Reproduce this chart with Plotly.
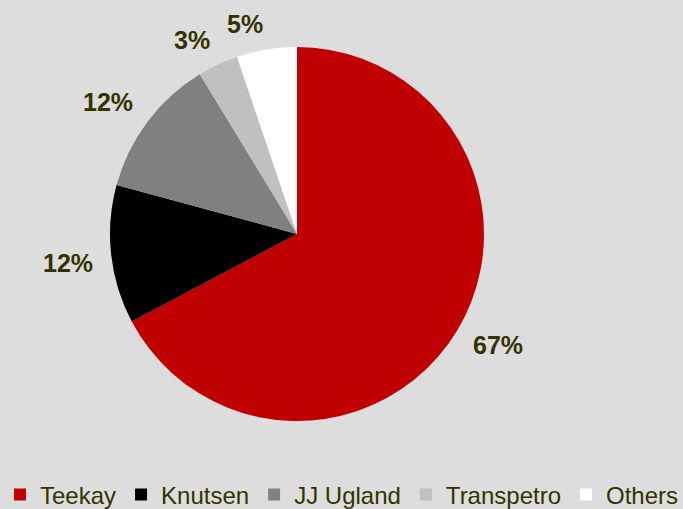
import math
import plotly.graph_objects as go

categories = ["Teekay", "Knutsen", "JJ Ugland", "Transpetro", "Others"]
shares = [67.25, 11.97, 12.08, 3.5, 5.2]
share_labels = ["67%", "12%", "12%", "3%", "5%"]
colors = ["#C00000", "#000000", "#808080", "#C0C0C0", "#FFFFFF"]

W, H = 683, 509
CX, CY, R = 297, 234, 187  # pie centre / radius in pixels
TEXT_COLOR = "#333300"
LABEL_SIZE = 25

fig = go.Figure(go.Pie(
    labels=categories,
    values=shares,
    textinfo="none",
    sort=False,
    direction="clockwise",
    rotation=0,
    marker=dict(colors=colors, line=dict(width=0)),
    domain=dict(x=[(CX - R) / W, (CX + R) / W], y=[1 - (CY + R) / H, 1 - (CY - R) / H]),
    hoverinfo="label+percent",
))

# data labels: nearest corner of each label sits on the slice's mid-angle ray
total = sum(shares)
cum = 0.0
annotations = []
for val, lab in zip(shares, share_labels):
    mid = (cum + val / 2) / total * 2 * math.pi
    cum += val
    dx, dy = math.sin(mid), -math.cos(mid)
    dist = R + 17
    px, py = CX + dx * dist, CY + dy * dist
    up = dy < 0
    annotations.append(dict(
        x=px / W, y=1 - py / H, xref="paper", yref="paper",
        text="<b>%s</b>" % lab, showarrow=False,
        xanchor="left" if dx > 0 else "right",
        yanchor="bottom" if up else "top",
        yshift=-6 if up else 9,
        borderpad=0,
        font=dict(family="Arial, Liberation Sans", size=LABEL_SIZE, color=TEXT_COLOR),
    ))

fig.update_layout(
    width=W, height=H,
    paper_bgcolor="#DDDDDD",
    plot_bgcolor="#DDDDDD",
    margin=dict(l=0, r=0, t=0, b=0, autoexpand=False),
    font=dict(family="Arial, Liberation Sans", color=TEXT_COLOR),
    annotations=annotations,
    legend=dict(
        orientation="h",
        x=0.0, xanchor="left",
        y=1 - 495 / H, yanchor="middle",
        font=dict(size=24, color=TEXT_COLOR),
        itemwidth=30,
        traceorder="normal",
        bgcolor="rgba(0,0,0,0)",
    ),
)

fig.write_html("out.html", config={"displayModeBar": False},
               post_script="document.body.style.margin='0';")
